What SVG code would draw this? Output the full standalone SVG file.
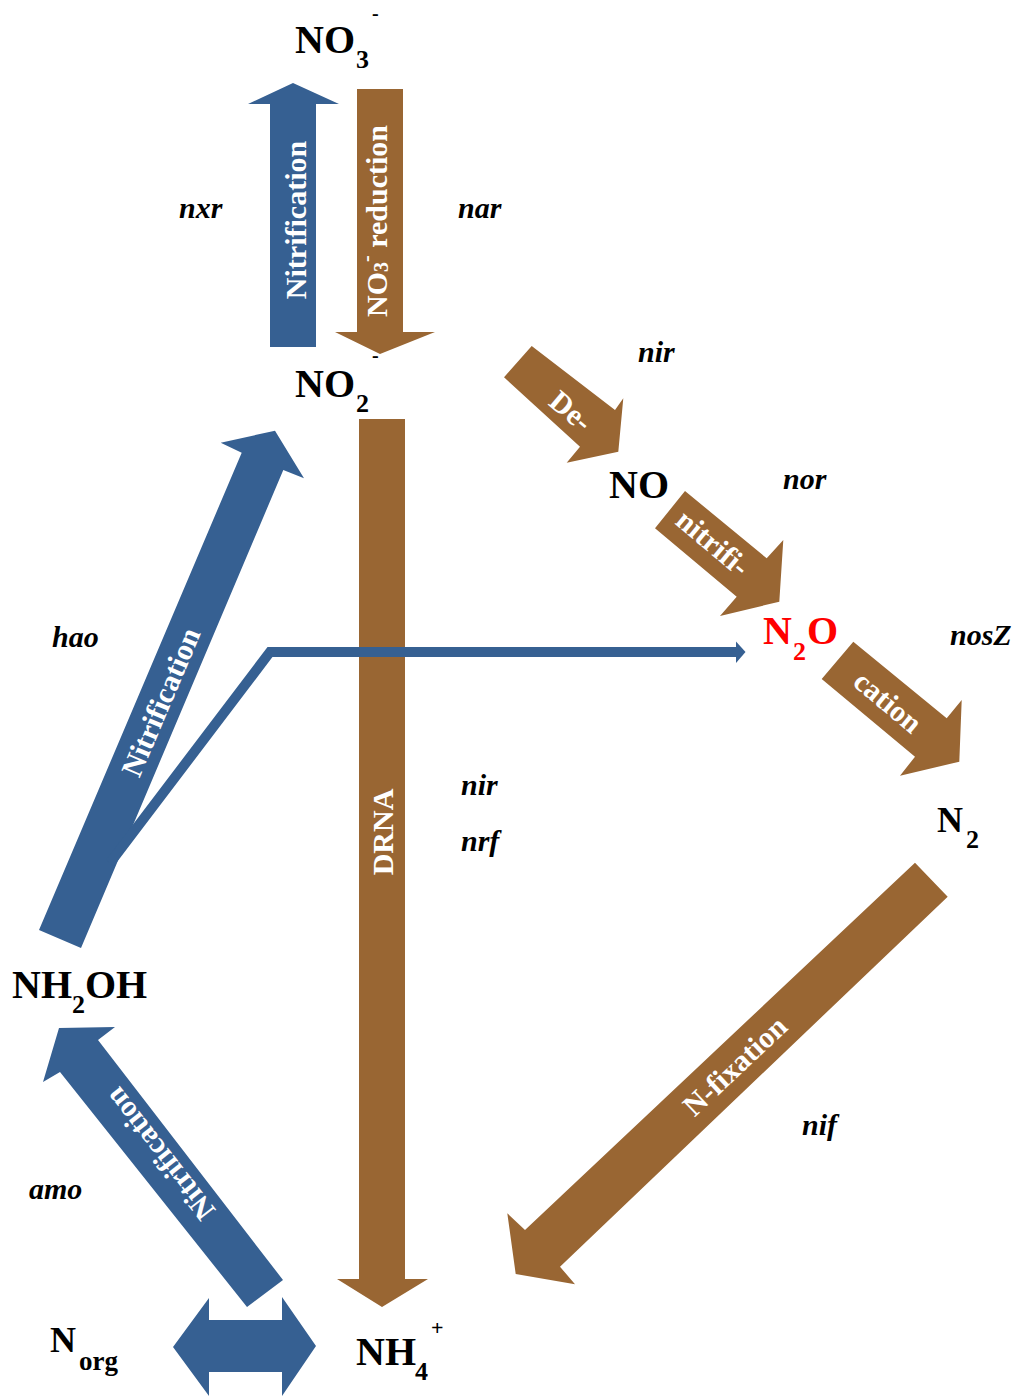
<svg xmlns="http://www.w3.org/2000/svg" width="1019" height="1398" viewBox="0 0 1019 1398">
<style>
.blue{fill:#366092}
.brown{fill:#996633}
.node{font-family:"Liberation Serif","Times New Roman",serif;font-weight:bold;font-size:40px;fill:#000}
.sub{font-size:26px}
.sup{font-size:20px}
.lbl{font-family:"Liberation Serif","Times New Roman",serif;font-weight:bold;font-style:italic;font-size:30px;fill:#000}
.in{font-family:"Liberation Serif","Times New Roman",serif;font-weight:bold;font-size:30px;fill:#fff;text-anchor:middle}
</style>
<rect width="1019" height="1398" fill="#fff"/>
<g id="connectors">
  <polygon class="blue" points="270,347 270,104 248,104 293,83 339,104 316,104 316,347"/>
  <polygon class="brown" points="357,89 403,89 403,332 435,332 380,354 335,332 357,332"/>
  <polygon class="brown" points="359,419 405,419 405,1279 428,1279 382,1307 337,1279 359,1279"/>
  <polygon class="brown" points="531.7,346 615,410 623.3,398.3 618.3,451.7 566.7,462.7 580,446.7 504,377.3"/>
  <polygon class="brown" points="685,491 766.7,558.3 783.3,540 779.3,601.7 720,616 736.7,596.7 655,528.3"/>
  <polygon class="brown" points="853.3,641.7 946.7,718.3 961.7,700 959.3,761.7 900,775.7 915,756.7 821.7,679"/>
  <polygon class="brown" points="915,862.7 947.7,896.7 560,1266.7 575,1284.3 515.7,1274 507.3,1213.3 525,1230"/>
  <polygon class="blue" points="275,430.7 304,478.3 283.3,470 81,948 39,930 241.7,452.7 220.7,442.7"/>
  <polyline points="110,863 270,652 738,652" fill="none" stroke="#366092" stroke-width="10" stroke-linejoin="miter"/>
  <polygon class="blue" points="736,641.5 745.5,652 736,663"/>
  <polygon class="blue" points="59,1028 115,1027 98,1040 283,1280 247,1307 60,1072 43,1082"/>
  <polygon class="blue" points="173,1347 209,1298 209,1320 282,1320 282,1297 316,1346 282,1396 282,1372 209,1372 209,1396"/>
  <text class="in" transform="translate(296,220) rotate(-90)" y="10">Nitrification</text>
  <text class="in" transform="translate(377,221) rotate(-90)" y="10">NO<tspan font-size="20" dy="1">3</tspan><tspan font-size="20" dy="-15">-</tspan><tspan dy="14"> reduction</tspan></text>
  <text class="in" transform="translate(383,832) rotate(-90)" y="10">DRNA</text>
  <text class="in" transform="translate(571,411) rotate(40)" y="10">De-</text>
  <text class="in" transform="translate(713,543) rotate(40)" y="10">nitrifi-</text>
  <text class="in" transform="translate(888,702) rotate(40)" y="10">cation</text>
  <text class="in" transform="translate(735,1066) rotate(-43.3)" y="10">N-fixation</text>
  <text class="in" transform="translate(161,702) rotate(-67)" y="10">Nitrification</text>
  <text class="in" transform="translate(160,1154) rotate(-128)" y="10">Nitrification</text>
</g>
<g id="enzymes">
  <text class="lbl" x="179" y="218">nxr</text>
  <text class="lbl" x="458" y="218">nar</text>
  <text class="lbl" x="638" y="362">nir</text>
  <text class="lbl" x="783" y="489">nor</text>
  <text class="lbl" x="950" y="645">nosZ</text>
  <text class="lbl" x="52" y="647">hao</text>
  <text class="lbl" x="461" y="795">nir</text>
  <text class="lbl" x="461" y="851">nrf</text>
  <text class="lbl" x="802" y="1135">nif</text>
  <text class="lbl" x="29" y="1199">amo</text>
</g>
<g id="node-NO3">
  <text class="node"><tspan x="295" y="53">NO</tspan><tspan class="sub" x="356" y="68">3</tspan><tspan class="sup" x="372" y="20">-</tspan></text>
</g>
<g id="node-NO2">
  <text class="node"><tspan x="295" y="397">NO</tspan><tspan class="sub" x="356" y="412">2</tspan><tspan class="sup" x="372" y="362">-</tspan></text>
</g>
<g id="node-NO">
  <text class="node" x="609" y="498">NO</text>
</g>
<g id="node-N2O">
  <text class="node" style="fill:#ff0000"><tspan x="763" y="644">N</tspan><tspan class="sub" x="793" y="660">2</tspan><tspan x="807" y="644">O</tspan></text>
</g>
<g id="node-N2">
  <text class="node" style="font-size:36px"><tspan x="937" y="832">N</tspan><tspan class="sub" x="966" y="848">2</tspan></text>
</g>
<g id="node-NH2OH">
  <text class="node"><tspan x="12" y="998">NH</tspan><tspan class="sub" x="72" y="1013">2</tspan><tspan x="85" y="998">OH</tspan></text>
</g>
<g id="node-Norg">
  <text class="node" style="font-size:36px"><tspan x="50" y="1352">N</tspan><tspan style="font-size:27px" x="79" y="1370">org</tspan></text>
</g>
<g id="node-NH4">
  <text class="node"><tspan x="356" y="1365">NH</tspan><tspan class="sub" x="415" y="1380">4</tspan><tspan style="font-size:22px" x="431" y="1335">+</tspan></text>
</g>
</svg>
